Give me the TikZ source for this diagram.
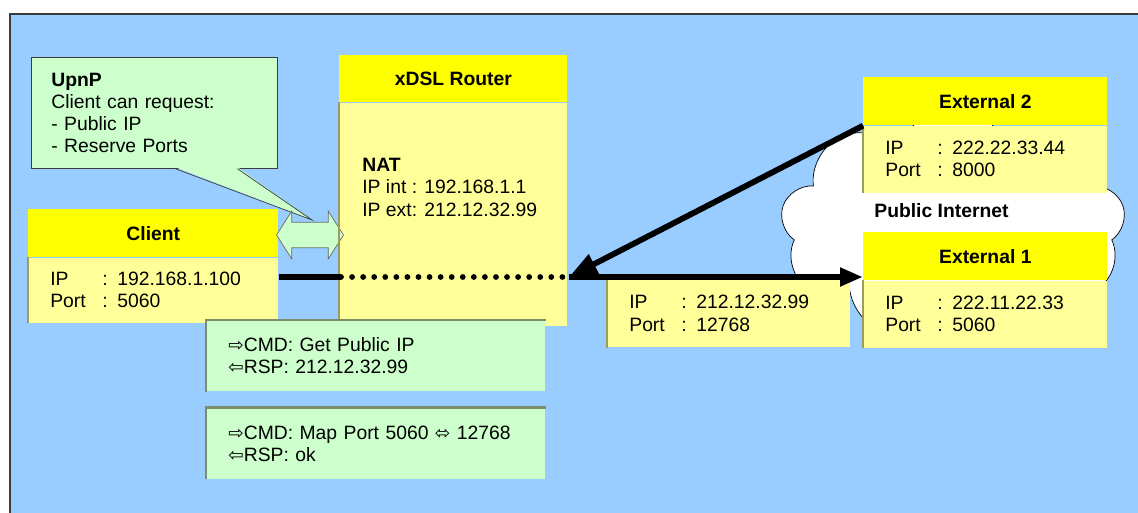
\documentclass[tikz,border=0pt]{standalone}
\usepackage{fontspec}
\setmainfont{Liberation Sans}
\newfontfamily\arrowfont{DejaVu Sans}
\usetikzlibrary{positioning,shapes.arrows,shapes.symbols,arrows.meta}
\definecolor{skyblue}{HTML}{99CCFF}
\definecolor{headyellow}{HTML}{FFFF00}
\definecolor{bodyyellow}{HTML}{FFFF99}
\definecolor{notegreen}{HTML}{CCFFCC}
\definecolor{edgeolive}{HTML}{9C9C5C}
\definecolor{edgegreen}{HTML}{7C8C6C}
\definecolor{framegray}{HTML}{3C3C3C}
\definecolor{arrowgray}{HTML}{6A6A6A}
\newcommand{\diagfont}{\fontsize{11}{12.6}\selectfont}
\newcommand{\field}[2]{\makebox[1.04cm][l]{#1}: #2}
\newcommand{\cmdto}{{\arrowfont\fontsize{10.5}{10}\selectfont\char"21E8}}
\newcommand{\cmdfrom}{{\arrowfont\fontsize{10.5}{10}\selectfont\char"21E6}}
\newcommand{\cmdboth}{{\arrowfont\fontsize{10.5}{10}\selectfont\char"2B04}}
\tikzset{
  boxhead/.style = {fill=headyellow, font=\diagfont\bfseries, inner sep=0pt, minimum height=0.96cm, anchor=north west},
  boxbody/.style = {fill=bodyyellow, font=\diagfont, align=left, text width=#1, inner xsep=0.44cm, inner ysep=0pt},
  plain/.style = {font=\diagfont, align=left, inner sep=0pt},
  callout/.style = {fill=notegreen, draw=framegray, font=\diagfont, align=left, anchor=north west, text width=4.12cm, inner xsep=0.4cm, minimum height=2.22cm},
  cmdbox/.style = {fill=notegreen, font=\diagfont, align=left, text width=5.9cm, inner xsep=0.44cm, minimum height=1.42cm},
  dblarrow/.style = {double arrow, fill=notegreen, draw=arrowgray, minimum height=1.34cm, inner xsep=0pt, inner ysep=0.25cm, double arrow head extend=0.22cm, double arrow tip angle=115},
  netcloud/.style = {cloud, cloud puffs=9, cloud ignores aspect, draw=black, fill=white, minimum width=6.9cm, minimum height=4.7cm},
  calloutedge/.style = {draw=framegray},
  bodyedge/.style = {draw=edgeolive, line width=1.1pt},
  cmdedge/.style = {draw=edgegreen, line width=1.4pt},
  link/.style = {line width=3.3pt},
  natlink/.style = {line width=3.3pt, line cap=round, dash pattern=on 0pt off 6.3pt}
}

\begin{document}
\begin{tikzpicture}[x=0.02cm, y=-0.02cm]
	\useasboundingbox (0,0) rectangle (1138,513);
	\fill [skyblue] (10,14) rectangle (1138,513);
	\draw [framegray, line width=1.2pt] (10,513) -- (10,14) -- (1138,14);

	\node [netcloud] (internet) at (953,226) {};

	\node [callout] (upnp) at (31,57) {\textbf{UpnP}\\Client can request:\\- Public IP\\- Reserve Ports};
	\coordinate (upnptip) at (312,220);
	\fill [notegreen] ([xshift=0.42cm,yshift=0.03cm]upnp.south) -- (upnptip) -- ([xshift=1.66cm,yshift=0.03cm]upnp.south) -- cycle;
	\draw [calloutedge] ([xshift=0.42cm]upnp.south) -- (upnptip) -- ([xshift=1.66cm]upnp.south);

	\node [boxhead, minimum width=5cm] (clienthead) at (28,209) {Client};
	\node [boxbody=4.12cm, minimum height=1.3cm, below=-0.01cm of clienthead] (clientbody) {\field{IP}{192.168.1.100}\\\field{Port}{5060}};

	\node [boxhead, minimum width=4.56cm, minimum height=0.94cm] (routerhead) at (339,55) {xDSL Router};
	\node [boxbody=3.68cm, minimum height=4.46cm, below=-0.01cm of routerhead] (routerbody) {};
	\node [plain, below right=1.12cm and 0.46cm of routerbody.north west] (nat) {\textbf{NAT}\\IP int : 192.168.1.1\\IP ext: 212.12.32.99};

	\node [dblarrow] (upnparrow) at (310,235) {};

	\node [boxhead, minimum width=4.88cm] (ext2head) at (863,77) {External 2};
	\node [boxbody=4cm, minimum height=1.34cm, below=-0.01cm of ext2head] (ext2body) {\field{IP}{222.22.33.44}\\\field{Port}{8000}};
	\node [boxhead, minimum width=4.88cm] (ext1head) at (863,232) {External 1};
	\node [boxbody=4cm, minimum height=1.34cm, below=-0.01cm of ext1head] (ext1body) {\field{IP}{222.11.22.33}\\\field{Port}{5060}};
	\node [plain, font=\diagfont\bfseries, below right=0.2cm and 0.22cm of ext2body.south west] (inet) {Public Internet};

	\node [boxbody=3.98cm, minimum height=1.36cm, anchor=north west] (mapped) at (607,279) {\field{IP}{212.12.32.99}\\\field{Port}{12768}};

	\foreach \b in {clientbody,routerbody,mapped,ext2body,ext1body}
		\draw [bodyedge] (\b.north west) -- (\b.south west);

	\coordinate (natin) at (341,277);
	\coordinate (natout) at (569,277);
	\draw [link] (clientbody.east |- natin) -- (natin);
	\draw [natlink] (natin) -- (natout);
	\draw [link, -{Triangle[length=13pt,width=10pt]}] (natout) -- (natout -| ext1body.west);
	\draw [link, -{Triangle[length=16pt,width=12pt]}] (ext2head.south west) -- (natout);

	\node [cmdbox, anchor=north west] (getip) at (206,320) {\cmdto CMD: Get Public IP\\\cmdfrom RSP: 212.12.32.99};
	\node [cmdbox, below=0.32cm of getip] (mapport) {\cmdto CMD: Map Port 5060 \cmdboth{} 12768\\\cmdfrom RSP: ok};
	\foreach \b in {getip,mapport}
		\draw [cmdedge] (\b.south west) -- (\b.north west) -- (\b.north east);
\end{tikzpicture}
\end{document}
